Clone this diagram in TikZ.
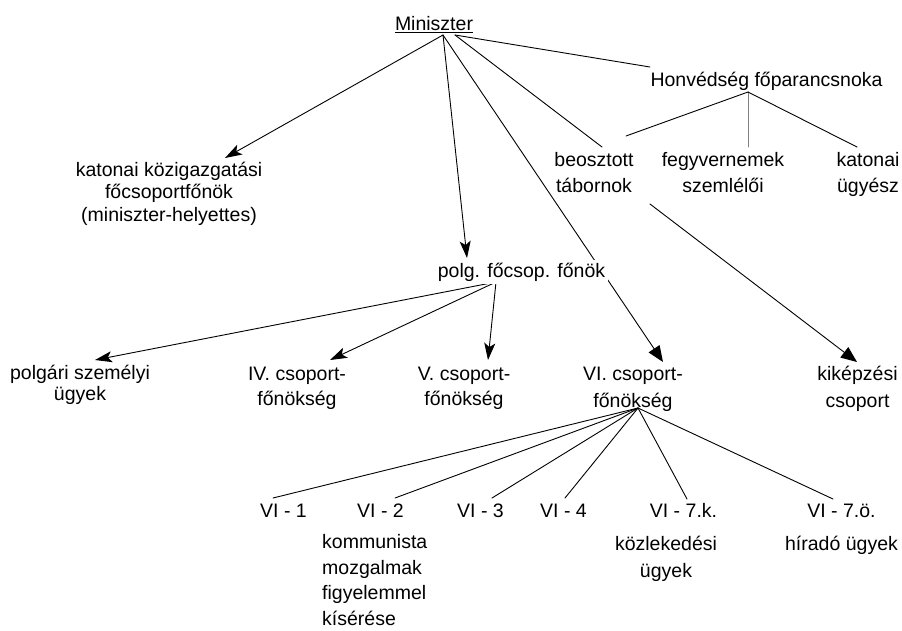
\documentclass[tikz,border=0pt]{standalone}
\usepackage{fontspec}
\setmainfont{Liberation Sans}
\usetikzlibrary{arrows.meta,calc}
\pgfdeclarelayer{bg}
\pgfsetlayers{bg,main}
\begin{document}
\begin{tikzpicture}[x=1pt,y=-1pt,
  lbl/.style={font=\fontsize{19.5}{26}\selectfont, inner sep=0pt, anchor=base, align=center},
  conn/.style={line width=0.9pt, line cap=round},
  arr/.style={conn,-{Stealth[length=17pt,width=11pt,inset=4pt]}},
  tarr/.style={conn,-{Triangle[length=16pt,width=13pt]}}]
\useasboundingbox (0,0) rectangle (902,630);

% nodes (anchor base = baseline of the last line)
\node[lbl] (min) at (434,30) {Miniszter};
\node[lbl] (honv) at (766.5,86) {Honvédség főparancsnoka};
\node[lbl, font=\fontsize{19.5}{22.5}\selectfont] (kk) at (169,221) {katonai közigazgatási\\főcsoportfőnök\\(miniszter-helyettes)};
\node[lbl] (beo) at (594,192) {beosztott\\tábornok};
\node[lbl] (fegy) at (723,192) {fegyvernemek\\szemlélői};
\node[lbl] (kat) at (868,192) {katonai\\ügyész};
\node[lbl, fill=white, inner sep=3pt] (polg) at (521.5,277) {polg. főcsop. főnök};
\node[lbl, font=\fontsize{19.5}{21}\selectfont] (psz) at (80,400) {polgári személyi\\ügyek};
\node[lbl, font=\fontsize{19.5}{25}\selectfont] (iv) at (297,405) {IV. csoport-\\főnökség};
\node[lbl, font=\fontsize{19.5}{25}\selectfont] (v) at (464,405) {V. csoport-\\főnökség};
\node[lbl, font=\fontsize{19.5}{27}\selectfont] (vi) at (633,407) {VI. csoport-\\főnökség};
\node[lbl, font=\fontsize{19.5}{27}\selectfont] (kik) at (857.5,407) {kiképzési\\csoport};
\node[lbl] (vi1) at (283.5,517) {VI - 1};
\node[lbl] (vi2) at (380.5,517) {VI - 2};
\node[lbl] (vi3) at (480.5,517) {VI - 3};
\node[lbl] (vi4) at (563.5,517) {VI - 4};
\node[lbl] (vi7k) at (683.5,517) {VI - 7.k.};
\node[lbl] (vi7o) at (841.5,517) {VI - 7.ö.};
\node[lbl, anchor=base west, align=left, font=\fontsize{19.5}{25.5}\selectfont] (komm) at (322,625) {kommunista\\mozgalmak\\figyelemmel\\kísérése};
\node[lbl, font=\fontsize{19.5}{27}\selectfont] (kozl) at (666,577) {közlekedési\\ügyek};
\node[lbl] (hir) at (841.5,550) {híradó ügyek};

% underline of Miniszter
\draw[line width=1pt] ($(min.base west)+(0,2.6)$) -- ($(min.base east)+(0,2.6)$);

% connector points
\coordinate (m1) at (443,35);
\coordinate (m2) at (455,35);
\coordinate (kkin) at (225,158);
\coordinate (polgin) at (467,258);
\coordinate (viin) at (663,362);
\coordinate (beoin1) at (602,147);
\coordinate (honvin) at (650,67);
\coordinate (honvout) at (748,92);
\coordinate (beoin2) at (626,136);
\coordinate (fegyin) at (748,147);
\coordinate (katin) at (857,147);
\coordinate (beoout) at (650,204);
\coordinate (kikin) at (857,362);
\coordinate (polgout) at (496,282);
\coordinate (pszin) at (95,360);
\coordinate (ivin) at (330,360);
\coordinate (vin) at (488,360);
\coordinate (viout) at (638,408);
\coordinate (vi1in) at (273,498);
\coordinate (vi2in) at (395,498);
\coordinate (vi3in) at (492,498);
\coordinate (vi4in) at (565,498);
\coordinate (vi7kin) at (687,499);
\coordinate (vi7oin) at (833,499);

\begin{pgfonlayer}{bg}
\draw[arr] (m1) -- (kkin);
\draw[arr] (m1) -- (polgin);
\draw[tarr] (m1) -- (viin);
\draw[conn] (m2) -- (beoin1);
\draw[conn] (m2) -- (honvin);
\draw[conn] (honvout) -- (beoin2);
\draw[conn, gray] (honvout) -- (fegyin);
\draw[conn] (honvout) -- (katin);
\draw[tarr] (beoout) -- (kikin);
\draw[arr] (polgout) -- (pszin);
\draw[arr] (polgout) -- (ivin);
\draw[arr] (polgout) -- (vin);
\draw[conn] (viout) -- (vi1in);
\draw[conn] (viout) -- (vi2in);
\draw[conn] (viout) -- (vi3in);
\draw[conn] (viout) -- (vi4in);
\draw[conn] (viout) -- (vi7kin);
\draw[conn] (viout) -- (vi7oin);
\end{pgfonlayer}
\end{tikzpicture}
\end{document}
